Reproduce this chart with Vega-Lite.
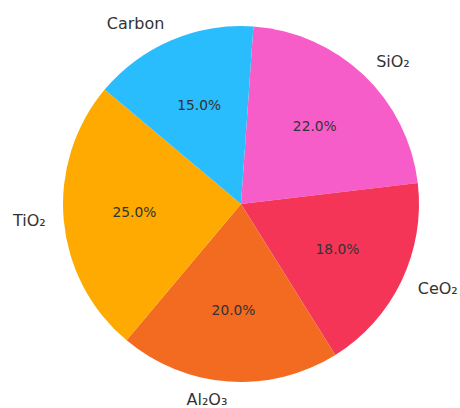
{
  "$schema": "https://vega.github.io/schema/vega-lite/v6.json",
  "autosize": "none",
  "padding": {"left": 22, "top": 0, "right": 0, "bottom": 0},
  "width": 438,
  "height": 408,
  "background": "white",
  "view": {"stroke": null},
  "data": {
    "values": [
      {"material": "SiO₂", "share": 0.22, "order": 1},
      {"material": "CeO₂", "share": 0.18, "order": 2},
      {"material": "Al₂O₃", "share": 0.20, "order": 3},
      {"material": "TiO₂", "share": 0.25, "order": 4},
      {"material": "Carbon", "share": 0.15, "order": 5}
    ]
  },
  "encoding": {
    "theta": {"field": "share", "type": "quantitative", "stack": true, "scale": {"domain": [0, 1], "range": [0.0698, 6.3530]}},
    "order": {"field": "order", "type": "quantitative"}
  },
  "layer": [
    {
      "mark": {"type": "arc", "outerRadius": 178},
      "encoding": {
        "color": {
          "field": "material", "type": "nominal", "legend": null,
          "scale": {
            "domain": ["SiO₂", "CeO₂", "Al₂O₃", "TiO₂", "Carbon"],
            "range": ["#F75DC9", "#F43558", "#F26B21", "#FFAA00", "#29BDFD"]
          }
        }
      }
    },
    {
      "mark": {"type": "text", "radius": 107, "fontSize": 13.8, "font": "DejaVu Sans", "color": "#333333", "align": "center", "baseline": "middle"},
      "encoding": {
        "text": {"field": "share", "type": "quantitative", "format": ".1%"}
      }
    },
    {
      "mark": {"type": "text", "radius": 196, "fontSize": 16, "font": "DejaVu Sans", "color": "#333333", "baseline": "middle",
        "align": {"expr": "indexof(['Carbon','Al₂O₃','TiO₂'], datum.material) >= 0 ? 'right' : 'left'"}},
      "encoding": {
        "text": {"field": "material", "type": "nominal"}
      }
    }
  ]
}
